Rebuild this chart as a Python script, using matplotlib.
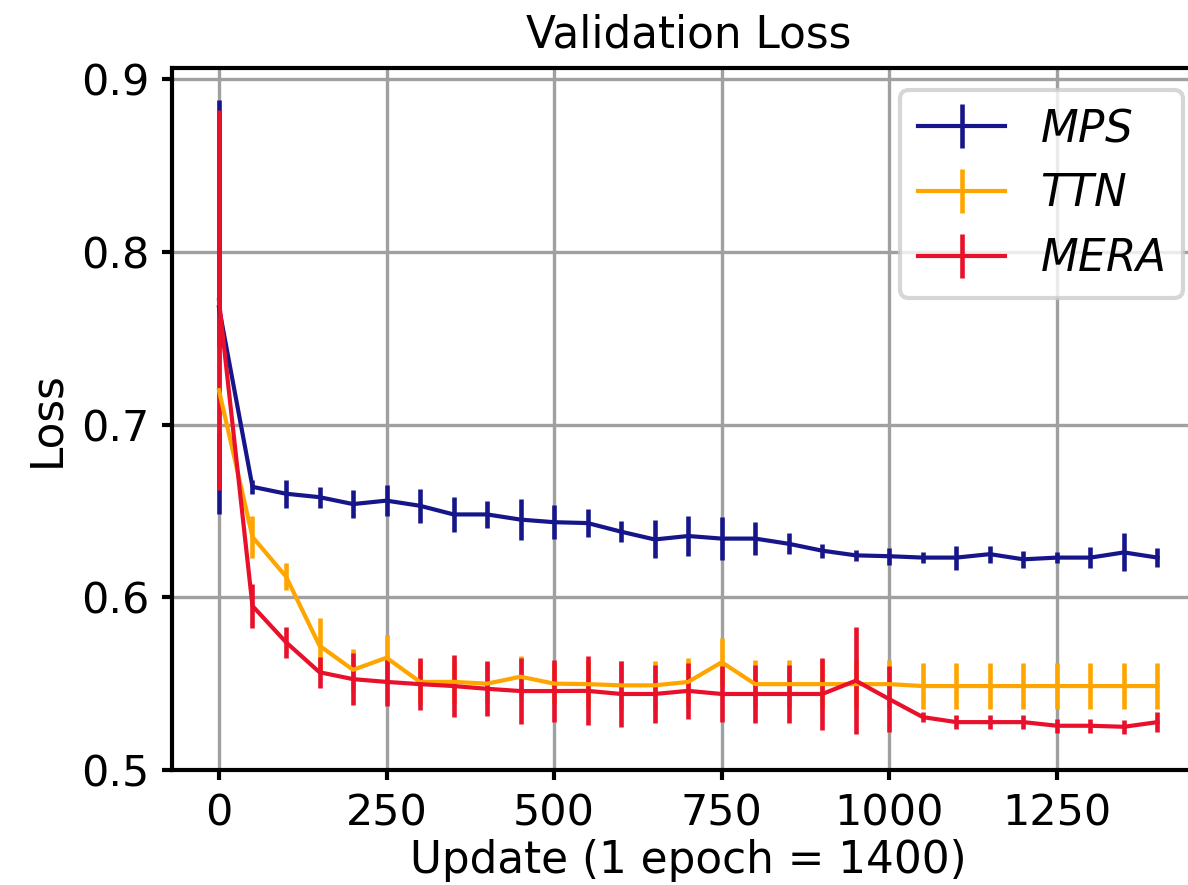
import matplotlib.pyplot as plt

updates = list(range(0, 1401, 50))

mps = [0.768, 0.664, 0.660, 0.658, 0.654, 0.656, 0.653, 0.648, 0.648, 0.645,
       0.6435, 0.643, 0.638, 0.6335, 0.6355, 0.634, 0.634, 0.631, 0.627, 0.6243,
       0.6238, 0.623, 0.623, 0.625, 0.622, 0.623, 0.623, 0.626, 0.623]
mps_err = [0.12, 0.004, 0.008, 0.006, 0.008, 0.009, 0.010, 0.010, 0.008, 0.012,
           0.010, 0.008, 0.006, 0.011, 0.0115, 0.0125, 0.0095, 0.006, 0.004, 0.003,
           0.005, 0.003, 0.007, 0.005, 0.005, 0.003, 0.006, 0.011, 0.0055]

ttn = [0.72, 0.635, 0.612, 0.572, 0.558, 0.565, 0.551, 0.551, 0.550, 0.554,
       0.550, 0.5497, 0.549, 0.549, 0.551, 0.5624, 0.5497, 0.5497, 0.5497, 0.5497,
       0.5497, 0.5486, 0.5486, 0.5486, 0.5486, 0.5486, 0.5486, 0.5486, 0.5486]
ttn_err = [0.025, 0.012, 0.008, 0.016, 0.012, 0.013, 0.012, 0.012, 0.012, 0.012,
           0.012, 0.014, 0.014, 0.014, 0.014, 0.014, 0.014, 0.014, 0.014, 0.014,
           0.014, 0.0135, 0.0135, 0.0135, 0.0135, 0.0135, 0.0135, 0.0135, 0.0135]

mera = [0.772, 0.595, 0.574, 0.5566, 0.5526, 0.551, 0.5497, 0.5486, 0.547, 0.5457,
        0.5457, 0.5458, 0.544, 0.544, 0.5458, 0.544, 0.544, 0.544, 0.544, 0.5517,
        0.541, 0.5306, 0.5277, 0.5277, 0.5277, 0.5256, 0.5256, 0.525, 0.5277]
mera_err = [0.11, 0.0125, 0.009, 0.009, 0.015, 0.014, 0.015, 0.018, 0.016, 0.019,
            0.018, 0.02, 0.019, 0.017, 0.016, 0.016, 0.017, 0.017, 0.021, 0.031,
            0.019, 0.003, 0.004, 0.004, 0.004, 0.004, 0.004, 0.004, 0.006]

plt.rcParams['font.size'] = 10.3

fig = plt.figure(figsize=(3.96, 2.95), dpi=300)
ax = fig.add_axes([0.1448, 0.13, 0.869, 0.793])

ax.errorbar(updates, mps, yerr=mps_err, color="#16168a", lw=1.0, elinewidth=1.1, label="$MPS$")
ax.errorbar(updates, ttn, yerr=ttn_err, color="orange", lw=1.0, elinewidth=1.1, label="$TTN$")
ax.errorbar(updates, mera, yerr=mera_err, color="#e8102a", lw=1.0, elinewidth=1.1, label="$MERA$")

ax.set_xlim(-70, 1470)
ax.set_ylim(0.5, 0.9065)
ax.set_xticks([0, 250, 500, 750, 1000, 1250])
ax.set_yticks([0.5, 0.6, 0.7, 0.8, 0.9])
ax.grid(True, color="#a0a0a0", lw=0.8)
ax.set_title("Validation Loss", fontsize=10.5, pad=5)
ax.set_xlabel("Update (1 epoch = 1400)", fontsize=10.5, labelpad=1)
ax.set_ylabel("Loss", fontsize=10.5, labelpad=3)
for s in ax.spines.values():
    s.set_linewidth(1.0)
ax.tick_params(length=2.5, width=1.0, pad=3)
ax.legend(loc="upper right", fontsize=10.5)

fig.savefig("out.png", dpi=300)
